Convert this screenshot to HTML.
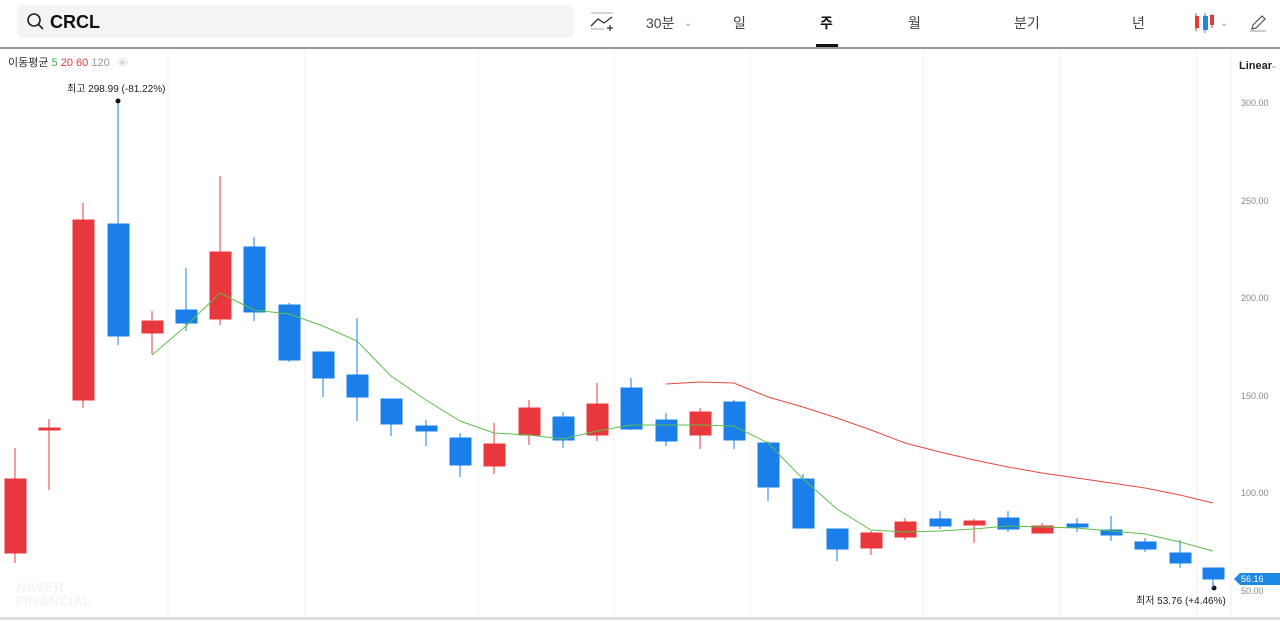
<!DOCTYPE html>
<html><head><meta charset="utf-8"><style>
body{margin:0;width:1280px;height:620px;overflow:hidden;background:#fff;font-family:"Liberation Sans","Noto Sans CJK KR",sans-serif;}
</style></head><body>
<svg width="1280" height="620" xmlns="http://www.w3.org/2000/svg" font-family="Liberation Sans, Noto Sans CJK KR, sans-serif">
<rect x="17" y="5" width="557" height="33" rx="6" fill="#f2f4f6"/>
<circle cx="34" cy="20" r="6" fill="none" stroke="#222" stroke-width="1.6"/><line x1="38.5" y1="24.5" x2="43" y2="29" stroke="#222" stroke-width="1.6"/>
<text x="50" y="28" font-size="18" font-weight="bold" fill="#111">CRCL</text>
<g stroke="#333" stroke-width="1.3" fill="none"><line x1="591" y1="13" x2="613" y2="13" stroke="#bbb"/><polyline points="591,26 598,19 604,23 612,17"/><line x1="591" y1="29" x2="604" y2="29" stroke="#bbb"/><line x1="607" y1="28" x2="613" y2="28"/><line x1="610" y1="25" x2="610" y2="31"/></g>
<text x="646" y="28" font-size="14" fill="#444">30분</text><text x="684" y="26" font-size="10" fill="#999">⌄</text>
<text x="733" y="28" font-size="14" fill="#444">일</text>
<text x="820" y="28" font-size="14" font-weight="bold" fill="#111">주</text>
<rect x="816" y="44" width="22" height="3" fill="#111"/>
<text x="908" y="28" font-size="14" fill="#444">월</text>
<text x="1014" y="28" font-size="14" fill="#444">분기</text>
<text x="1132" y="28" font-size="14" fill="#444">년</text>
<line x1="1196" y1="13" x2="1196" y2="31" stroke="#e53935"/><rect x="1195" y="16" width="4" height="12" fill="#e53935"/>
<line x1="1205" y1="13" x2="1205" y2="33" stroke="#1e88e5"/><rect x="1203" y="16" width="5" height="14" fill="#1e88e5"/>
<line x1="1212" y1="14" x2="1212" y2="28" stroke="#e53935"/><rect x="1210" y="15" width="4" height="10" fill="#e53935"/>
<text x="1220" y="26" font-size="10" fill="#999">⌄</text>
<path d="M1252 29 L1253 25 L1262 16 L1265 19 L1256 28 Z" fill="none" stroke="#555" stroke-width="1.2"/><line x1="1250" y1="31" x2="1266" y2="31" stroke="#999"/>
<rect x="0" y="47" width="1280" height="2" fill="#999"/>
<g stroke="#f0f0f0" stroke-width="1">
<line x1="168" y1="50" x2="168" y2="618"/><line x1="305" y1="50" x2="305" y2="618"/><line x1="478" y1="50" x2="478" y2="618"/><line x1="614" y1="50" x2="614" y2="618"/><line x1="750" y1="50" x2="750" y2="618"/><line x1="923" y1="50" x2="923" y2="618"/><line x1="1060" y1="50" x2="1060" y2="618"/><line x1="1197" y1="50" x2="1197" y2="618"/><line x1="1231" y1="50" x2="1231" y2="618"/>
</g>
<rect x="0" y="617" width="1280" height="3" fill="#ddd"/>
<text x="8" y="66" font-size="11" fill="#333">이동평균 <tspan fill="#4caf50">5</tspan> <tspan fill="#e53935">20</tspan> <tspan fill="#e53935">60</tspan> <tspan fill="#999">120</tspan></text>
<circle cx="123" cy="62" r="5" fill="#eee"/><text x="120" y="65" font-size="7" fill="#aaa">×</text>
<text x="1239" y="69" font-size="11" font-weight="bold" fill="#222">Linear</text><text x="1270" y="68" font-size="9" fill="#999">⌄</text>
<g font-size="9" fill="#888">
<text x="1241" y="106">300.00</text><text x="1241" y="204">250.00</text><text x="1241" y="301">200.00</text><text x="1241" y="399">150.00</text><text x="1241" y="496">100.00</text><text x="1241" y="594">50.00</text>
</g>
<path d="M1234 579 L1240 573 L1280 573 L1280 585 L1240 585 Z" fill="#1e88e5"/><text x="1241" y="582" font-size="9" fill="#fff">56.16</text>
<text x="67" y="92" font-size="10" fill="#222">최고  298.99 (-81.22%)</text><circle cx="118" cy="101" r="2.5" fill="#111"/>
<text x="1136" y="604" font-size="10" fill="#222">최저  53.76 (+4.46%)</text><circle cx="1214" cy="588" r="2.5" fill="#111"/>
<text x="16" y="592" font-size="14" font-weight="bold" fill="#f3f4f6">NAVER</text><text x="16" y="606" font-size="14" font-weight="bold" fill="#f3f4f6">FINANCIAL</text>
<g stroke-width="1">
<g fill="#e8383d" stroke="#e8383d">
<line x1="15" y1="448" x2="15" y2="563"/><rect x="5" y="479" width="21" height="74"/>
<line x1="49" y1="419" x2="49" y2="490"/><rect x="39" y="428" width="21" height="2"/>
<line x1="83" y1="203" x2="83" y2="408"/><rect x="73" y="220" width="21" height="180"/>
<line x1="152" y1="311" x2="152" y2="354"/><rect x="142" y="321" width="21" height="12"/>
<line x1="220" y1="176" x2="220" y2="325"/><rect x="210" y="252" width="21" height="67"/>
<line x1="494" y1="423" x2="494" y2="474"/><rect x="484" y="444" width="21" height="22"/>
<line x1="529" y1="400" x2="529" y2="445"/><rect x="519" y="408" width="21" height="27"/>
<line x1="597" y1="383" x2="597" y2="441"/><rect x="587" y="404" width="21" height="31"/>
<line x1="700" y1="408" x2="700" y2="449"/><rect x="690" y="412" width="21" height="23"/>
<line x1="871" y1="531" x2="871" y2="555"/><rect x="861" y="533" width="21" height="15"/>
<line x1="905" y1="518" x2="905" y2="540"/><rect x="895" y="522" width="21" height="15"/>
<line x1="974" y1="519" x2="974" y2="543"/><rect x="964" y="521" width="21" height="4"/>
<line x1="1042" y1="523" x2="1042" y2="534"/><rect x="1032" y="526" width="21" height="7"/>
</g>
<g fill="#1a7fe8" stroke="#1a7fe8">
<line x1="118" y1="103" x2="118" y2="345"/><rect x="108" y="224" width="21" height="112"/>
<line x1="186" y1="268" x2="186" y2="331"/><rect x="176" y="310" width="21" height="13"/>
<line x1="254" y1="237" x2="254" y2="321"/><rect x="244" y="247" width="21" height="65"/>
<line x1="289" y1="303" x2="289" y2="362"/><rect x="279" y="305" width="21" height="55"/>
<line x1="323" y1="352" x2="323" y2="397"/><rect x="313" y="352" width="21" height="26"/>
<line x1="357" y1="318" x2="357" y2="421"/><rect x="347" y="375" width="21" height="22"/>
<line x1="391" y1="399" x2="391" y2="436"/><rect x="381" y="399" width="21" height="25"/>
<line x1="426" y1="420" x2="426" y2="446"/><rect x="416" y="426" width="21" height="5"/>
<line x1="460" y1="433" x2="460" y2="477"/><rect x="450" y="438" width="21" height="27"/>
<line x1="563" y1="412" x2="563" y2="448"/><rect x="553" y="417" width="21" height="23"/>
<line x1="631" y1="378" x2="631" y2="430"/><rect x="621" y="388" width="21" height="41"/>
<line x1="666" y1="413" x2="666" y2="446"/><rect x="656" y="420" width="21" height="21"/>
<line x1="734" y1="400" x2="734" y2="449"/><rect x="724" y="402" width="21" height="38"/>
<line x1="768" y1="441" x2="768" y2="501"/><rect x="758" y="443" width="21" height="44"/>
<line x1="803" y1="474" x2="803" y2="528"/><rect x="793" y="479" width="21" height="49"/>
<line x1="837" y1="529" x2="837" y2="561"/><rect x="827" y="529" width="21" height="20"/>
<line x1="940" y1="511" x2="940" y2="529"/><rect x="930" y="519" width="21" height="7"/>
<line x1="1008" y1="511" x2="1008" y2="532"/><rect x="998" y="518" width="21" height="11"/>
<line x1="1077" y1="518" x2="1077" y2="532"/><rect x="1067" y="524" width="21" height="3"/>
<line x1="1111" y1="516" x2="1111" y2="541"/><rect x="1101" y="530" width="21" height="5"/>
<line x1="1145" y1="538" x2="1145" y2="552"/><rect x="1135" y="542" width="21" height="7"/>
<line x1="1180" y1="540" x2="1180" y2="568"/><rect x="1170" y="553" width="21" height="10"/>
<line x1="1213" y1="568" x2="1213" y2="588"/><rect x="1203" y="568" width="21" height="11"/>
</g>
</g>
<polyline fill="none" stroke="#5cbf4a" stroke-width="1" points="152,355 186,326 220,293 254,310 289,314 323,326 357,341 391,376 426,400 460,421 494,433 529,435 563,439 597,431 631,425 666,425 700,425 734,426 768,443 803,479 837,509 871,530 905,532 940,531 974,529 1008,526 1042,527 1077,528 1111,531 1145,534 1180,542 1213,551"/>
<polyline fill="none" stroke="#e8483d" stroke-width="1" points="666,384 700,382 734,383 768,397 803,407 837,418 871,430 905,443 940,452 974,460 1008,467 1042,473 1077,478 1111,483 1145,488 1180,495 1213,503"/>
</svg>
</body></html>
